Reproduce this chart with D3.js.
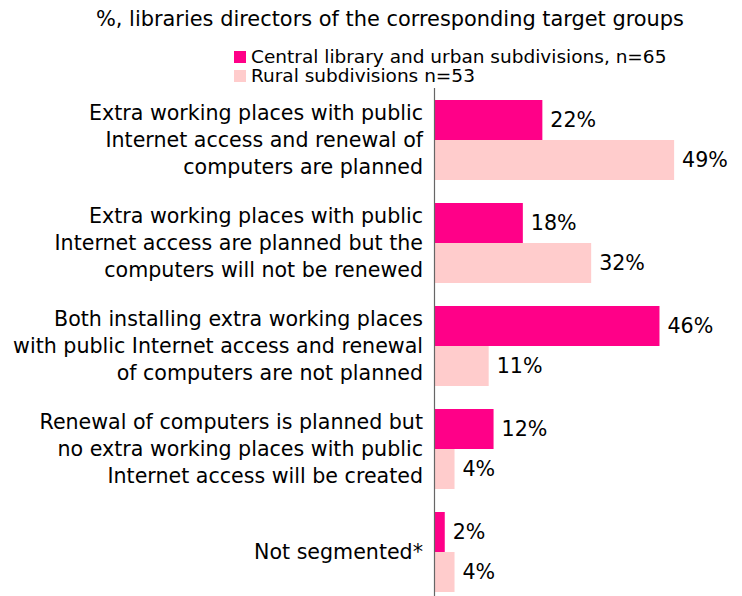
<!DOCTYPE html>
<html>
<head>
<meta charset="utf-8">
<script src="https://cdn.jsdelivr.net/npm/d3@7"></script>
<style>
  html, body { margin: 0; padding: 0; background: #fff; }
  svg { display: block; font-family: "DejaVu Sans", Verdana, sans-serif; }
</style>
</head>
<body>
<svg id="chart" width="742" height="596"></svg>
<script>
const subtitle = "%, libraries directors of the corresponding target groups";
const categories = [
  ["Extra working places with public", "Internet access and renewal of", "computers are planned"],
  ["Extra working places with public", "Internet access are planned but the", "computers will not be renewed"],
  ["Both installing extra working places", "with public Internet access and renewal", "of computers are not planned"],
  ["Renewal of computers is planned but", "no extra working places with public", "Internet access will be created"],
  ["Not segmented*"]
];
const seriesNames = ["Central library and urban subdivisions, n=65", "Rural subdivisions n=53"];
const urbanValues = [22, 18, 46, 12, 2];
const ruralValues = [49, 32, 11, 4, 4];
const colors = ["#FF0088", "#FFCCCC"];

const svg = d3.select("#chart");
const catIds = categories.map((c, i) => i);
const rows = catIds.map(i => ({ id: i, lines: categories[i], values: [urbanValues[i], ruralValues[i]] }));

const y = d3.scaleBand().domain(catIds).range([100, 592]).paddingInner(23 / 103).paddingOuter(0);
const ySub = d3.scaleBand().domain([0, 1]).range([0, y.bandwidth()]);
const x = d3.scaleLinear().domain([0, 100]).range([435, 923]);

// subtitle
svg.append("text").attr("x", 390).attr("y", 26).attr("text-anchor", "middle")
  .attr("font-size", 20.9).attr("fill", "#000").text(subtitle);

// legend
const leg = svg.append("g");
seriesNames.forEach((s, i) => {
  const g = leg.append("g").attr("transform", `translate(234,${51 + i * 19})`);
  g.append("rect").attr("width", 12).attr("height", 12).attr("fill", colors[i]);
  g.append("text").attr("x", 17).attr("y", 12).attr("font-size", 18.5).attr("fill", "#000").text(s);
});

// bars
const groups = svg.append("g").selectAll("g").data(rows).join("g")
  .attr("transform", d => `translate(0,${y(d.id)})`);

groups.selectAll("rect").data(d => d.values.map((v, k) => ({ v, k }))).join("rect")
  .attr("x", x(0))
  .attr("y", d => ySub(d.k))
  .attr("width", d => x(d.v) - x(0))
  .attr("height", ySub.bandwidth())
  .attr("fill", d => colors[d.k]);

groups.selectAll("text.val").data(d => d.values.map((v, k) => ({ v, k }))).join("text")
  .attr("class", "val")
  .attr("x", d => x(d.v) + 8)
  .attr("y", d => ySub(d.k) + ySub.bandwidth() / 2)
  .attr("dy", "0.36em")
  .attr("font-size", 20.6).attr("fill", "#000")
  .text(d => d.v + "%");

// category labels
const lineH = 27;
groups.each(function(d) {
  const t = d3.select(this).append("text")
    .attr("text-anchor", "end").attr("font-size", 20.6).attr("fill", "#000");
  const n = d.lines.length;
  d.lines.forEach((ln, j) => {
    t.append("tspan").attr("x", 423)
      .attr("y", y.bandwidth() / 2 + (j - (n - 1) / 2) * lineH)
      .attr("dy", "0.36em").text(ln);
  });
});

// axis line
svg.append("line").attr("x1", 434.5).attr("x2", 434.5).attr("y1", 88).attr("y2", 596)
  .attr("stroke", "#666").attr("stroke-width", 1.2);
</script>
</body>
</html>
